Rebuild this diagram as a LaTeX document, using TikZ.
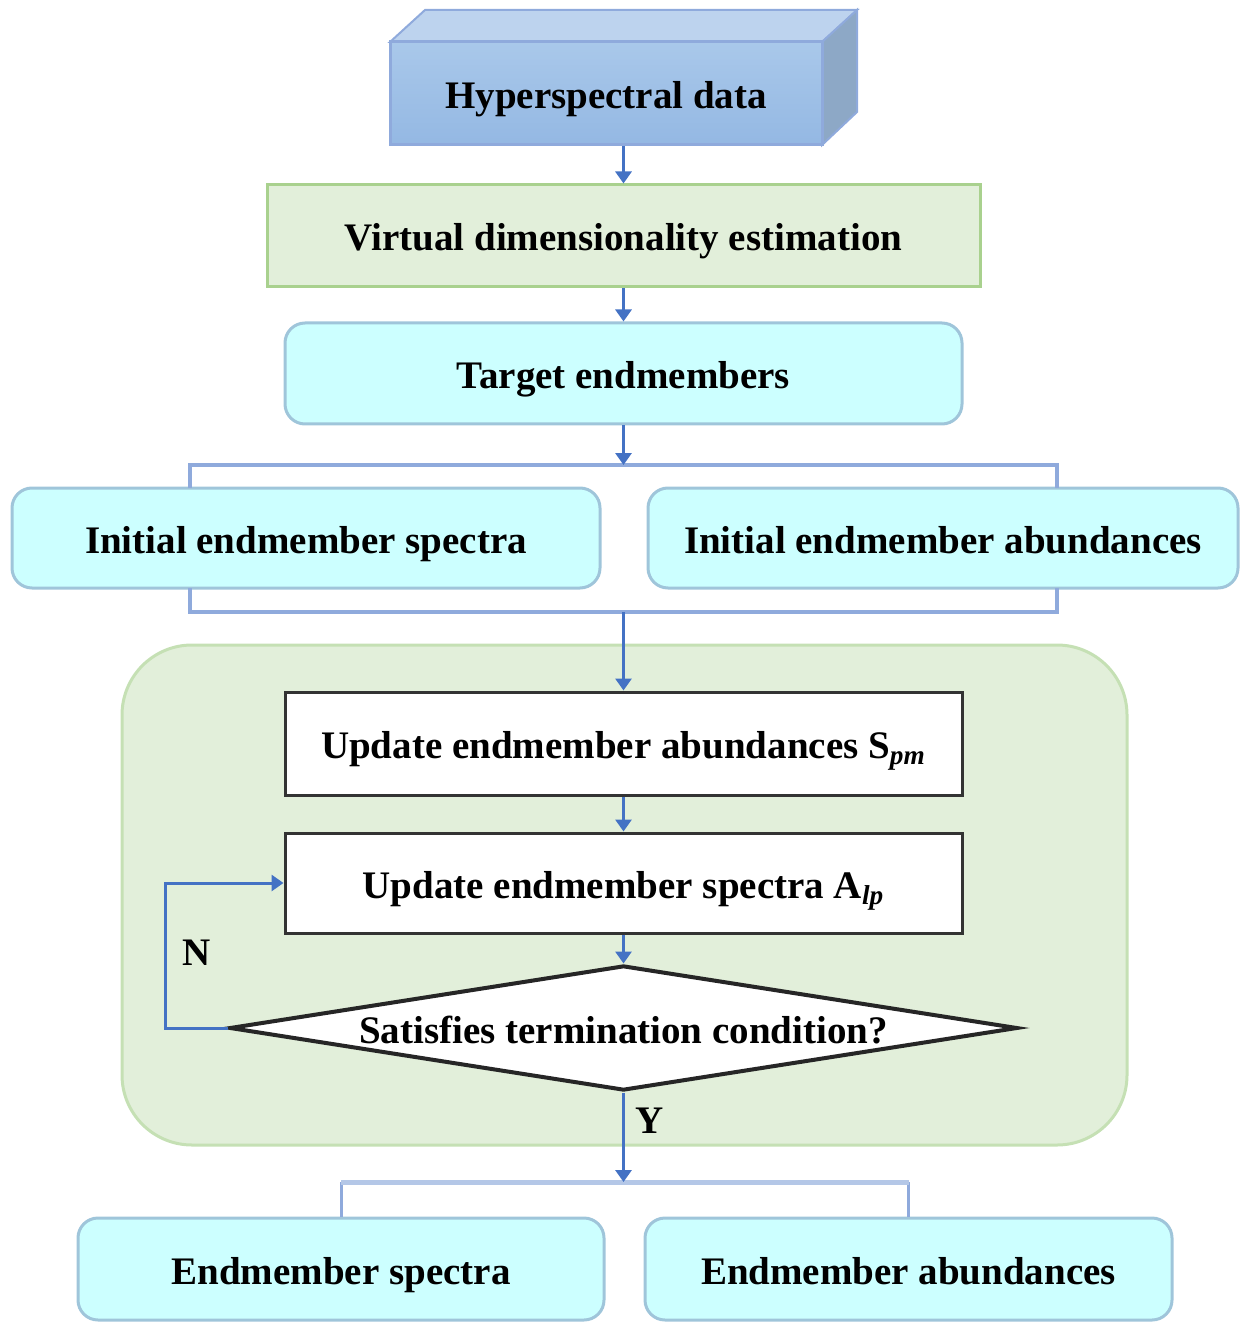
\documentclass[tikz,border=0pt]{standalone}
\usepackage{fontspec}
\setmainfont{Liberation Serif}
\usetikzlibrary{shapes.geometric,arrows.meta}
\definecolor{arrc}{HTML}{4472C4}
\definecolor{brkc}{HTML}{8FAADC}
\definecolor{brklight}{HTML}{B4C7E7}
\definecolor{cyanfill}{HTML}{CCFFFF}
\definecolor{cyanedge}{HTML}{9FC5DA}
\definecolor{greenfill}{HTML}{E2EFDA}
\definecolor{greenedge}{HTML}{A9D18E}
\definecolor{contedge}{HTML}{C5E0B4}
\definecolor{hyptop}{HTML}{BDD3EE}
\definecolor{hypfrontA}{HTML}{A9C8EA}
\definecolor{hypfrontB}{HTML}{94B8E3}
\definecolor{hypside}{HTML}{8DA8C6}
\definecolor{hypedge}{HTML}{8FAADC}
\tikzset{
  txt/.style={font=\bfseries\fontsize{19.5}{23}\selectfont, text=black, text height=15pt, text depth=0pt},
  cyanbox/.style={txt, draw=cyanedge, fill=cyanfill, line width=1.5pt, rounded corners=10pt, inner sep=0pt},
  greenbox/.style={txt, draw=greenedge, fill=greenfill, line width=1.5pt, inner sep=0pt},
  whitebox/.style={txt, draw=black!80, fill=white, line width=1.5pt, inner sep=0pt},
  flow/.style={draw=arrc, line width=1.5pt, -{Triangle[width=8pt,length=6pt]}},
  bracket/.style={draw=brkc, line width=2pt},
  lbracket/.style={draw=brklight, line width=2.5pt},
}
\begin{document}
\begin{tikzpicture}[x=0.5pt,y=-0.5pt]
\useasboundingbox (0,0) rectangle (1257,1331);
% 3D hyperspectral box
\fill[hyptop, draw=hypedge, line width=1pt] (390,42) -- (425,10) -- (857,10) -- (822,42) -- cycle;
\fill[hypside, draw=hypedge, line width=1pt] (822,42) -- (857,10) -- (857,112) -- (822,145) -- cycle;
\node[txt, draw=hypedge, line width=1.5pt, top color=hypfrontA, bottom color=hypfrontB, minimum width=216pt, minimum height=51.5pt, inner sep=0pt] (hyp) at (606,93.5) {Hyperspectral data};
\node[greenbox, minimum width=356.5pt, minimum height=51pt] (vde) at (623.5,236) {Virtual dimensionality estimation};
\node[cyanbox, minimum width=338.5pt, minimum height=50.5pt] (tgt) at (623.5,373.5) {Target endmembers};
\node[cyanbox, minimum width=294pt, minimum height=50pt] (ies) at (306,538) {Initial endmember spectra};
\node[cyanbox, minimum width=295pt, minimum height=50pt] (iea) at (943,538) {Initial endmember abundances};
% container
\draw[fill=greenfill, draw=contedge, line width=1.5pt, rounded corners=35pt] (122,645) rectangle (1127,1145);
\node[whitebox, minimum width=338.5pt, minimum height=51.5pt] (ua) at (623.5,743.5) {Update endmember abundances S\textsubscript{\itshape pm}};
\node[whitebox, minimum width=338.5pt, minimum height=50pt] (us) at (623.5,883) {Update endmember spectra A\textsubscript{\itshape lp}};
\node[diamond, draw=black!85, fill=white, line width=2pt, minimum width=394pt, minimum height=62.5pt, inner sep=0pt, aspect=6.3] (dia) at (623.5,1028) {};
\node[txt] (diat) at (623.5,1028) {Satisfies termination condition?};
\node[txt] (nlab) at (197,950) {N};
\node[txt] (ylab) at (650,1118) {Y};
\node[cyanbox, minimum width=263pt, minimum height=51pt] (es) at (341,1269) {Endmember spectra};
\node[cyanbox, minimum width=263.5pt, minimum height=51pt] (ea) at (908.5,1269) {Endmember abundances};
% connectors
\coordinate (tb) at (623.5,465);
\coordinate (bb) at (623.5,612);
\coordinate (yb) at (623.5,1182);
\draw[flow] (hyp.south -| vde.north) -- (vde.north);
\draw[flow] (vde.south) -- (tgt.north);
\draw[bracket] (190,488) -- (190,465) -- (1057,465) -- (1057,488);
\draw[flow] (tgt.south) -- (tb);
\draw[bracket] (190,588) -- (190,612) -- (1057,612) -- (1057,588);
\draw[flow] (bb) -- (ua.north);
\draw[flow] (ua.south) -- (us.north);
\draw[flow] (us.south) -- (dia.north);
\draw[flow] (dia.west) -- ++(-62,0) |- (us.west);
\draw[draw=brkc, line width=1.5pt] (es.north) -- (es.north |- yb);
\draw[draw=brkc, line width=1.5pt] (ea.north) -- (ea.north |- yb);
\draw[lbracket] (es.north |- yb) -- (ea.north |- yb);
\draw[flow] (dia.south) -- (yb);
\end{tikzpicture}
\end{document}
